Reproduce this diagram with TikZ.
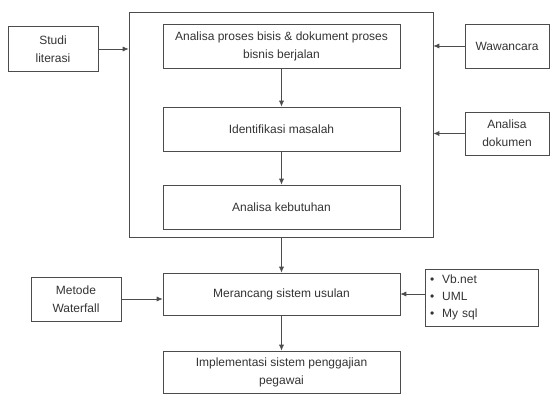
\documentclass[tikz,border=0pt]{standalone}
\usepackage{fontspec}
\setmainfont{Liberation Sans}
\usetikzlibrary{arrows.meta}

\tikzset{
  box/.style={draw=black!70, line width=0.6pt, rectangle, align=center,
    inner sep=2pt, text=black!80, font=\fontsize{12}{18}\selectfont},
  arrow/.style={draw=black!70, line width=0.7pt, -{Latex[length=6pt,width=5pt]}}
}

\begin{document}
\begin{tikzpicture}[x=1pt, y=-1pt]
  \useasboundingbox (0,0) rectangle (550,394);

  % kotak besar untuk tahap analisa
  \node[box, minimum width=304pt, minimum height=225pt] (frame) at (281,124.5) {};

  \node[box, minimum width=237pt, minimum height=44pt] (proses) at (281.5,46)
    {Analisa proses bisis \& dokument proses\\bisnis berjalan};
  \node[box, minimum width=237pt, minimum height=44pt] (masalah) at (281.5,129)
    {Identifikasi masalah};
  \node[box, minimum width=237pt, minimum height=44pt] (kebutuhan) at (281.5,207)
    {Analisa kebutuhan};

  % sumber data
  \node[box, minimum width=90pt, minimum height=45pt] (studi) at (53,49) {Studi\\literasi};
  \node[box, minimum width=84pt, minimum height=44pt] (wawancara) at (507,46) {Wawancara};
  \node[box, minimum width=84pt, minimum height=43pt] (dokumen) at (507,133.5) {Analisa\\dokumen};

  % perancangan
  \node[box, minimum width=237pt, minimum height=42pt] (merancang) at (281.5,294)
    {Merancang sistem usulan};
  \node[box, minimum width=237pt, minimum height=42pt] (implementasi) at (281.5,372)
    {Implementasi sistem penggajian\\pegawai};
  \node[box, minimum width=90pt, minimum height=44pt] (waterfall) at (76,299) {Metode\\Waterfall};
  \node[box, minimum height=57pt, inner xsep=5pt, text width=103pt, align=left,
    font=\fontsize{12}{18}\selectfont] (tools) at (481.5,297.5)
    {\textbullet\hspace{8pt}Vb.net\\[-1pt]\textbullet\hspace{8pt}UML\\[-1pt]\textbullet\hspace{8pt}My sql};

  \draw[arrow] (studi) -- (studi -| frame.west);
  \draw[arrow] (wawancara) -- (wawancara -| frame.east);
  \draw[arrow] (dokumen) -- (dokumen -| frame.east);
  \draw[arrow] (proses) -- (masalah);
  \draw[arrow] (masalah) -- (kebutuhan);
  \draw[arrow] (frame.south -| merancang) -- (merancang);
  \draw[arrow] (waterfall) -- (waterfall -| merancang.west);
  \draw[arrow] (tools.west |- merancang) -- (merancang);
  \draw[arrow] (merancang) -- (implementasi);
\end{tikzpicture}
\end{document}
